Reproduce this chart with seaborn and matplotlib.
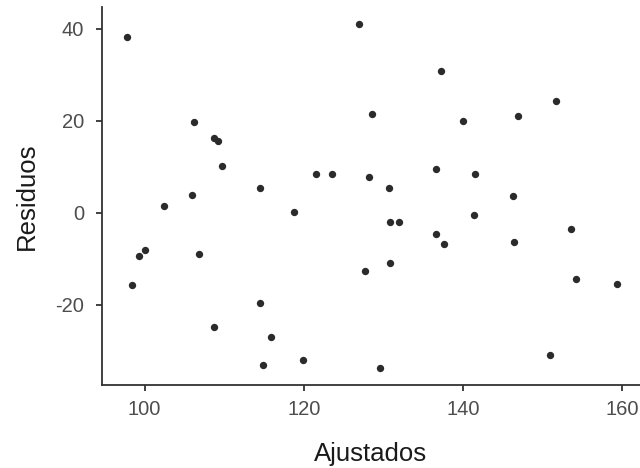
import matplotlib
matplotlib.use("Agg")
import matplotlib.pyplot as plt
import seaborn as sns
import pandas as pd

# Fitted values and residuals of the model
ajustados = [
    97.76, 106.23, 108.70, 109.25, 109.79, 114.53, 126.94, 137.26, 128.53, 140.06,
    121.53, 123.58, 128.20, 136.58, 141.57, 130.75, 151.67, 146.98, 105.97, 102.45,
    100.06, 99.31, 106.86, 98.43, 114.53, 108.74, 115.87, 114.91, 118.84, 141.45,
    130.88, 132.01, 136.58, 137.67, 130.84, 127.70, 119.90, 129.58, 146.32, 153.56,
    146.44, 154.19, 159.43, 150.92,
]
residuos = [
    38.2, 19.7, 16.2, 15.7, 10.2, 5.4, 41.0, 30.7, 21.5, 19.9,
    8.4, 8.4, 7.8, 9.4, 8.4, 5.3, 24.3, 21.0, 3.9, 1.5,
    -8.2, -9.5, -9.0, -15.6, -19.7, -24.9, -27.0, -33.0, 0.1, -0.4,
    -2.0, -2.0, -4.6, -6.7, -10.9, -12.7, -32.0, -33.7, 3.7, -3.6,
    -6.4, -14.3, -15.5, -31.0,
]
x_ticks = [100, 120, 140, 160]
y_ticks = [-20, 0, 20, 40]

df = pd.DataFrame({"Ajustados": ajustados, "Residuos": residuos})

sns.set_theme(style="ticks")
plt.rcParams["font.family"] = ["Liberation Sans", "DejaVu Sans"]
plt.rcParams["axes.unicode_minus"] = False

fig = plt.figure(figsize=(6.4, 4.68), dpi=100)
ax = fig.add_axes([0.15984, 0.17735, 0.84297, 0.80791])

sns.scatterplot(data=df, x="Ajustados", y="Residuos", ax=ax,
                color="#2b2b2b", s=28, linewidth=0)

# 5% padding around the data range on both axes
def padded(vals, frac=0.05):
    lo, hi = min(vals), max(vals)
    d = (hi - lo) * frac
    return lo - d, hi + d

ax.set_xlim(*padded(ajustados))
ax.set_ylim(*padded(residuos))
ax.set_xticks(x_ticks)
ax.set_yticks(y_ticks)
ax.set_xticklabels([str(v) for v in x_ticks])
ax.set_yticklabels([str(v) for v in y_ticks])

for side in ("top", "right"):
    ax.spines[side].set_visible(False)
for side in ("left", "bottom"):
    ax.spines[side].set_color("#333333")
    ax.spines[side].set_linewidth(1.3)

ax.tick_params(axis="both", length=4.1, width=1.3, color="#333333",
               labelcolor="#4d4d4d", labelsize=14.5)
ax.tick_params(axis="x", pad=7)
ax.tick_params(axis="y", pad=9)

ax.set_xlabel("Ajustados", fontsize=18.5, color="#1a1a1a")
ax.set_ylabel("Residuos", fontsize=18.5, color="#1a1a1a")
ax.xaxis.set_label_coords(0.4975, -0.152)
ax.yaxis.set_label_coords(-0.118, 0.5)

fig.savefig("out.png", dpi=100, facecolor="white")
